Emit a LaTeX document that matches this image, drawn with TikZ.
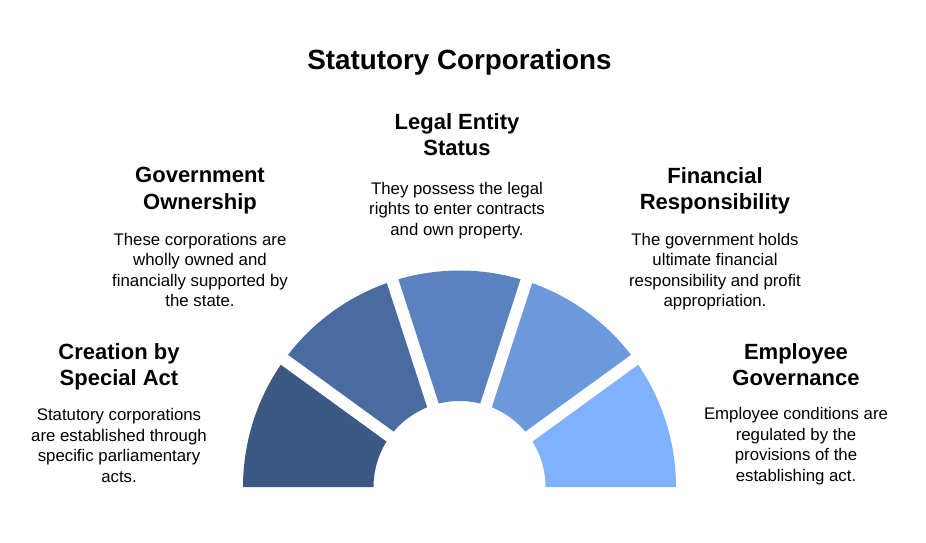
\documentclass[tikz,border=0pt]{standalone}
\usepackage{fontspec}
\setmainfont{Liberation Sans}
\usepackage{xcolor}
\usepackage{tikz}
\definecolor{sone}{HTML}{3B5984}
\definecolor{stwo}{HTML}{4A6BA0}
\definecolor{sthree}{HTML}{5A82BF}
\definecolor{sfour}{HTML}{6C98DE}
\definecolor{sfive}{HTML}{80B1FF}
\tikzset{
  stitle/.style={font=\fontsize{27.8}{32}\selectfont\bfseries, inner sep=0pt, anchor=base},
  shead/.style={font=\fontsize{22}{26.5}\selectfont\bfseries, align=center,
                inner sep=0pt, anchor=north},
  sbody/.style={font=\fontsize{16.8}{20.5}\selectfont, align=center,
                inner sep=0pt, anchor=north},
  sgap/.style={white, line width=12pt},
}

\begin{document}
\begin{tikzpicture}[x=1pt,y=1pt]

  \useasboundingbox (0,0) rectangle (926,542);
  \coordinate (c) at (459.5,55);

  % titulo
  \node[stitle] (title) at (459.5,472) {Statutory Corporations};

  % segmentos do semicirculo
  \foreach \a/\b/\col in {180/144/sone, 144/108/stwo, 108/72/sthree,
                          72/36/sfour, 36/0/sfive}
    \fill[\col] ([shift=(\a:216.5)]c) arc (\a:\b:216.5)
      -- ([shift=(\b:86)]c) arc (\b:\a:86) -- cycle;

  % espacos entre os segmentos
  \foreach \a in {36,72,108,144}
    \draw[sgap] (c) -- ++(\a:230);

  % titulos dos itens
  \node[shead] (hd1) at (119,199) {Creation by\\Special Act};
  \node[shead] (hd2) at (200,375) {Government\\Ownership};
  \node[shead] (hd3) at (457,429) {Legal Entity\\Status};
  \node[shead] (hd4) at (715,375) {Financial\\Responsibility};
  \node[shead] (hd5) at (796,199) {Employee\\Governance};

  % textos
  \node[sbody] (bd1) at (119,133.5) {Statutory corporations\\are established through\\specific parliamentary\\acts.};
  \node[sbody] (bd2) at (200,309) {These corporations are\\wholly owned and\\financially supported by\\the state.};
  \node[sbody] (bd3) at (457,360) {They possess the legal\\rights to enter contracts\\and own property.};
  \node[sbody] (bd4) at (715,309) {The government holds\\ultimate financial\\responsibility and profit\\appropriation.};
  \node[sbody] (bd5) at (796,134.5) {Employee conditions are\\regulated by the\\provisions of the\\establishing act.};

\end{tikzpicture}
\end{document}
